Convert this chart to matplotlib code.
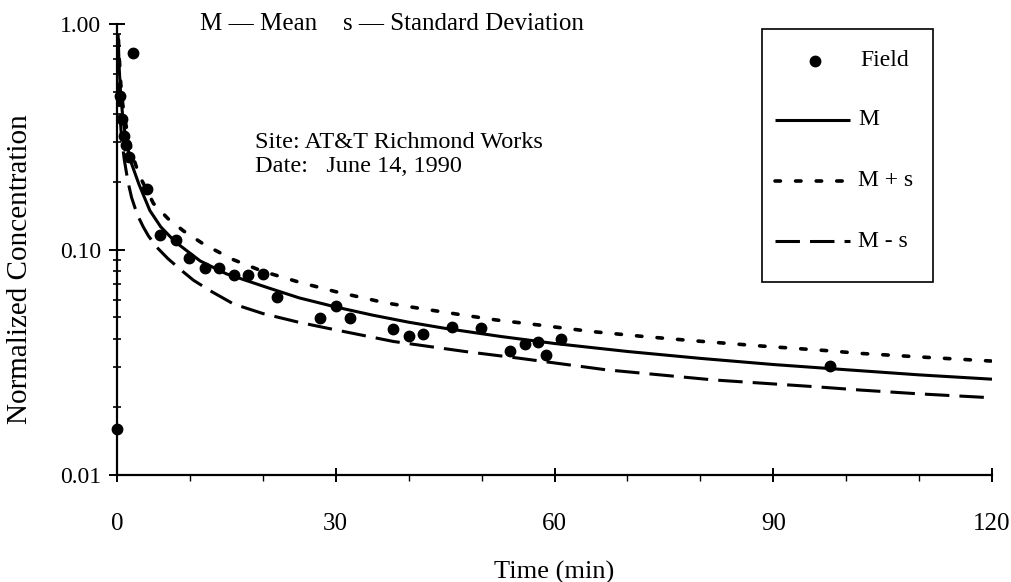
import matplotlib
matplotlib.use("Agg")
import matplotlib.pyplot as plt
from matplotlib.lines import Line2D
from matplotlib.patches import Rectangle
from matplotlib.ticker import FixedLocator, MultipleLocator, LogLocator, NullFormatter

plt.rcParams['font.family'] = ['Liberation Serif', 'DejaVu Serif']

# field measurements, time (min) vs normalized concentration
field_t = [0, 0.4, 0.64, 1.0, 1.3, 1.65, 2.15, 4.07, 5.9, 8.1, 9.9, 12.1, 14.0,
           16.0, 18.0, 20.0, 22.0, 27.9, 30.0, 32.0, 37.9, 40.0, 41.9, 46.0,
           49.9, 53.9, 56.0, 57.8, 58.9, 60.9, 97.8]
field_c = [0.016, 0.48, 0.38, 0.32, 0.29, 0.257, 0.74, 0.186, 0.116, 0.110,
           0.092, 0.083, 0.083, 0.0774, 0.0774, 0.078, 0.0618, 0.0497, 0.056,
           0.0495, 0.0444, 0.0415, 0.042, 0.0452, 0.045, 0.0353, 0.0381,
           0.0387, 0.0341, 0.0401, 0.0305]

# model curves: mean (M), mean + std (M + s), mean - std (M - s)
mean_t = [0.15, 0.3, 0.5, 0.75, 1.0, 1.5, 2.0, 3.0, 4.5, 6.0, 8.0, 11.4, 15,
          20.5, 25, 30, 35, 40, 45, 52.5, 60, 70, 80, 90, 100, 110, 120]
mean_c = [0.90, 0.64, 0.49, 0.40, 0.345, 0.28, 0.24, 0.195, 0.149, 0.126,
          0.108, 0.089, 0.078, 0.068, 0.061, 0.0556, 0.0512, 0.0476, 0.0447,
          0.0412, 0.0383, 0.0353, 0.0329, 0.0309, 0.0293, 0.0278, 0.0266]

plus_t = [0.2, 0.3, 0.5, 0.75, 1.0, 1.5, 2.0, 3.0, 5.0, 7.0, 9.1, 12, 16, 20,
          25, 30, 36.8, 42, 48, 52, 58, 65, 72, 78.6, 88, 97.4, 102, 110, 120]
plus_c = [0.85, 0.72, 0.55, 0.45, 0.39, 0.32, 0.27, 0.215, 0.160, 0.137,
          0.121, 0.105, 0.090, 0.080, 0.0716, 0.065, 0.058, 0.0545, 0.0509,
          0.0487, 0.0462, 0.0433, 0.0412, 0.0395, 0.0374, 0.0356, 0.0346,
          0.0334, 0.0320]

minus_t = [0.2, 0.4, 0.6, 1.0, 1.5, 2.0, 2.5, 3.0, 3.6, 4.3, 5.5, 7.0, 9.0,
           10.5, 13, 16, 20, 25, 30, 37.9, 47.7, 55, 67, 81.8, 96, 102, 110, 120]
minus_c = [0.55, 0.40, 0.32, 0.25, 0.20, 0.17, 0.152, 0.138, 0.126, 0.115,
           0.102, 0.091, 0.080, 0.073, 0.065, 0.0573, 0.0520, 0.0475, 0.044,
           0.0391, 0.0353, 0.033, 0.0293, 0.0264, 0.0246, 0.0238, 0.0229, 0.0220]

x_ticks = [0, 30, 60, 90, 120]
y_ticks = [0.01, 0.10, 1.00]
y_ticklabels = ['0.01', '0.10', '1.00']

W, H = 1011, 582
fig = plt.figure(figsize=(W / 100, H / 100), dpi=100)
ax = fig.add_axes([117 / W, 1 - 475 / H, 875 / W, 451 / H])

FS = 18
lw = 2.2
dot_lw = 2.6
dot_style = (0, (1.5, 4.2))
dash_style = (0, (8, 3.3))

ax.plot(mean_t, mean_c, color='black', lw=lw, solid_capstyle='butt')
ax.plot(plus_t, plus_c, color='black', lw=dot_lw, linestyle=dot_style,
        dash_capstyle='round')
ax.plot(minus_t, minus_c, color='black', lw=lw, linestyle=dash_style)
ax.plot(field_t, field_c, 'o', color='black', markersize=7.5, clip_on=False)

ax.set_yscale('log')
ax.set_xlim(0, 120)
ax.set_ylim(0.01, 1.0)

ax.xaxis.set_major_locator(FixedLocator(x_ticks))
ax.xaxis.set_minor_locator(MultipleLocator(10))
ax.yaxis.set_major_locator(FixedLocator(y_ticks))
ax.set_yticklabels(y_ticklabels)
ax.yaxis.set_minor_locator(LogLocator(base=10, subs=range(2, 10)))
ax.yaxis.set_minor_formatter(NullFormatter())

for side in ('top', 'right'):
    ax.spines[side].set_visible(False)
for side in ('left', 'bottom'):
    ax.spines[side].set_linewidth(1.6)

ax.tick_params(axis='y', which='major', direction='inout', length=11,
               width=1.4, labelsize=17, pad=6)
ax.tick_params(axis='y', which='minor', direction='inout', length=6, width=1.2)
ax.tick_params(axis='x', which='major', direction='inout', length=10,
               width=1.4, labelsize=FS, pad=22)
ax.tick_params(axis='x', which='minor', direction='out', length=4, width=1.0)

ax.set_xlabel('Time (min)', fontsize=19)
ax.xaxis.set_label_coords(0.5, -0.19)
ax.set_ylabel('Normalized Concentration', fontsize=21)
ax.yaxis.set_label_coords(-0.096, 0.457)


def px(x, y):
    return x / W, 1 - y / H


fig.text(*px(200, 24), 'M \u2014 Mean', fontsize=FS, va='center')
fig.text(*px(343, 24), 's \u2014 Standard Deviation', fontsize=FS, va='center')
fig.text(*px(255, 142), 'Site: AT&T Richmond Works', fontsize=17.5, va='center')
fig.text(*px(255, 166), 'Date:   June 14, 1990', fontsize=17.5, va='center')

# legend box
x0, y0 = px(762, 282)
x1, y1 = px(933, 29)
fig.add_artist(Rectangle((x0, y0), x1 - x0, y1 - y0, transform=fig.transFigure,
                         fill=False, edgecolor='black', lw=1.2))
entries = [
    ('Field', dict(marker='o', linestyle='none', markersize=7.5, lw=lw), 61),
    ('M', dict(linestyle='-', solid_capstyle='butt', lw=lw), 120),
    ('M + s', dict(linestyle=dot_style, dash_capstyle='round', lw=dot_lw), 181),
    ('M - s', dict(linestyle=dash_style, lw=lw), 241),
]
for label, style, yy in entries:
    if label == 'Field':
        xs = [815 / W]
        ys = [1 - yy / H]
    else:
        xs = [775 / W, 850 / W]
        ys = [1 - yy / H] * 2
    fig.add_artist(Line2D(xs, ys, transform=fig.transFigure, color='black',
                          **style))
    fig.text(*px(858 if label != 'Field' else 860, yy), label, fontsize=17,
             va='center')

fig.savefig('out.png', dpi=100)
